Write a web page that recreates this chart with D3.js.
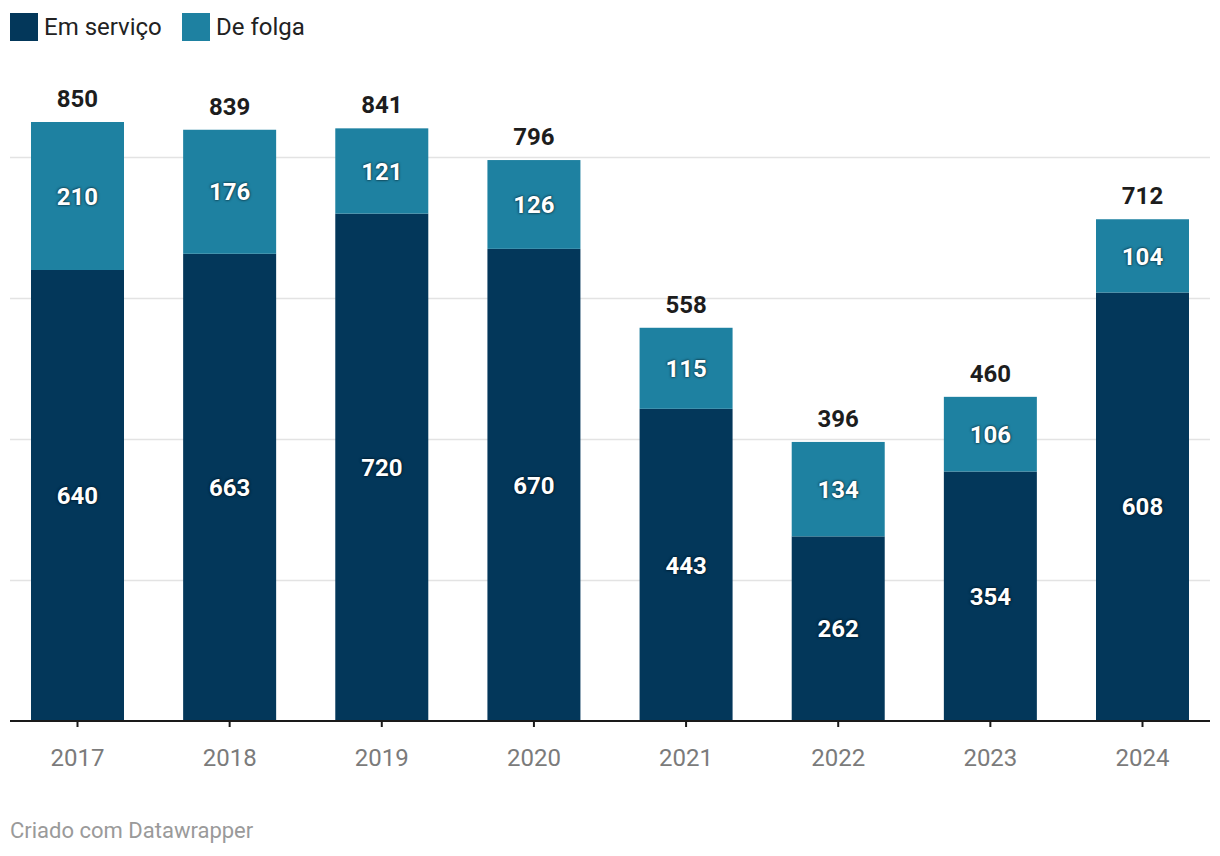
<!DOCTYPE html>
<html><head><meta charset="utf-8">
<script src="https://cdn.jsdelivr.net/npm/d3@7"></script>
<style>
body{margin:0;background:#fff;font-family:Roboto,"Noto Sans",sans-serif;}
svg{display:block;}
.inl{text-shadow:0 0 3px rgba(0,0,0,0.6),0 0 2px rgba(0,0,0,0.5);}
</style></head><body>
<svg id="c" width="1220" height="856"></svg>
<script>
const years = ["2017","2018","2019","2020","2021","2022","2023","2024"];
const emServico = [640,663,720,670,443,262,354,608];
const deFolga = [210,176,121,126,115,134,106,104];
const seriesNames = ["Em serviço","De folga"];
const colors = ["#03375a","#1e81a1"];
const gridTicks = [200,400,600,800];

const svg = d3.select("#c");
const base = 721, left = 10, right = 1210;
const y = d3.scaleLinear().domain([0,850]).range([base, base-599]);
const x = d3.scaleBand().domain(years).range([left,right]).paddingInner(0.3887).paddingOuter(0.138);

// grid
svg.append("g").selectAll("line").data(gridTicks).join("line")
  .attr("x1",left).attr("x2",right)
  .attr("y1",d=>Math.round(y(d))+0.5).attr("y2",d=>Math.round(y(d))+0.5)
  .attr("stroke","#e3e3e3").attr("stroke-width",1.5);

const data = years.map((yr,i)=>({year:yr, em:emServico[i], de:deFolga[i], total:emServico[i]+deFolga[i]}));
const stack = d3.stack().keys(["em","de"])(data);

svg.append("g").selectAll("g").data(stack).join("g").attr("fill",(d,i)=>colors[i])
  .selectAll("rect").data(d=>d).join("rect")
  .attr("x",d=>x(d.data.year)).attr("width",x.bandwidth())
  .attr("y",d=>y(d[1])).attr("height",d=>y(d[0])-y(d[1]));

// inner labels
stack.forEach((s,si)=>{
  svg.append("g").selectAll("text").data(s).join("text")
    .attr("class","inl")
    .attr("x",d=>x(d.data.year)+x.bandwidth()/2)
    .attr("y",d=>(y(d[0])+y(d[1]))/2)
    .attr("dy","0.36em")
    .attr("text-anchor","middle")
    .attr("fill","#fff").attr("font-weight","700").attr("font-size","24px")
    .text(d=>d[1]-d[0]);
});

// totals
svg.append("g").selectAll("text").data(data).join("text")
  .attr("x",d=>x(d.year)+x.bandwidth()/2)
  .attr("y",d=>y(d.total)-15)
  .attr("text-anchor","middle")
  .attr("fill","#1d1d1d").attr("font-weight","700").attr("font-size","24px")
  .text(d=>d.total);

// axis
const ax = svg.append("g").attr("transform",`translate(0,${base})`)
  .call(d3.axisBottom(x).tickSize(6).tickSizeOuter(0).tickPadding(22));
ax.select(".domain").attr("stroke","#1a1a1a").attr("stroke-width",2).attr("d",`M${left},0H${right}`);
ax.selectAll(".tick line").attr("stroke","#1a1a1a").attr("stroke-width",2);
ax.selectAll(".tick text").attr("fill","#7b7b7b").attr("font-size","24px").attr("font-family","Roboto");

// legend
const lg = svg.append("g");
const lxs = [10,182];
seriesNames.forEach((n,i)=>{
  lg.append("rect").attr("x",lxs[i]).attr("y",13).attr("width",28).attr("height",28).attr("fill",colors[i]);
  lg.append("text").attr("x",lxs[i]+34).attr("y",35).attr("font-size","24px").attr("fill","#222").text(n);
});

svg.append("text").attr("x",10).attr("y",838).attr("font-size","22px").attr("fill","#9a9a9a").text("Criado com Datawrapper");
</script>
</body></html>
